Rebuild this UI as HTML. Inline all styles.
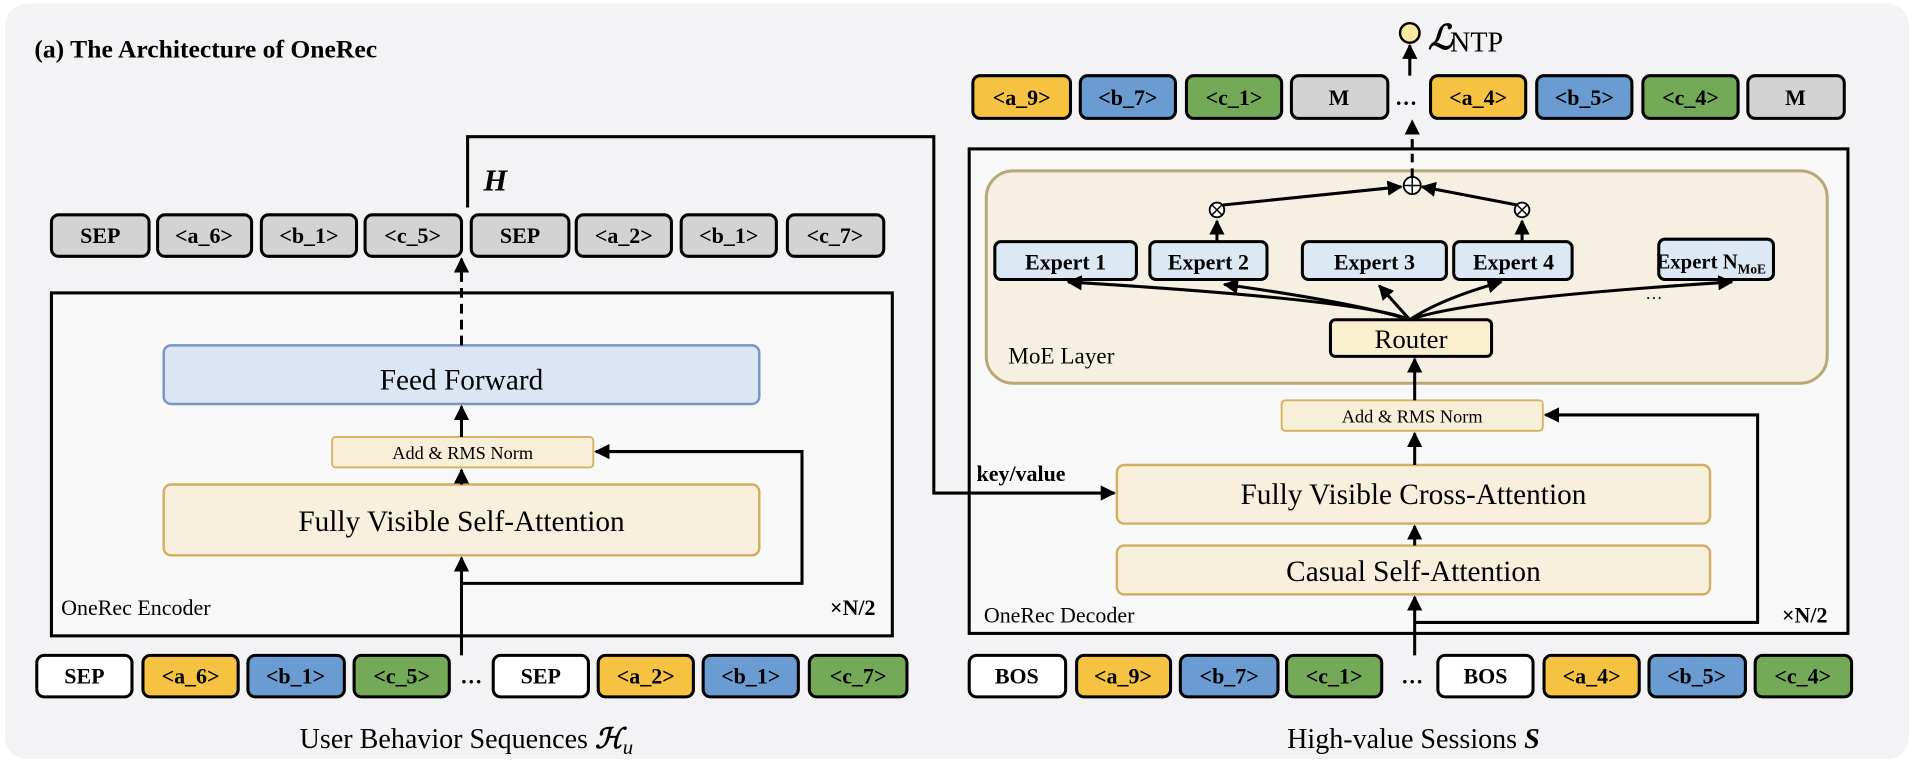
<!DOCTYPE html>
<html><head><meta charset="utf-8"><style>
html,body{margin:0;padding:0;background:#fff;}
svg{display:block;}
text{font-family:"Liberation Serif",serif;}
.tk{font-weight:bold;font-size:18px;text-anchor:middle;}
</style></head><body>
<svg width="1914" height="764" viewBox="0 0 1568 626" xmlns="http://www.w3.org/2000/svg">
<defs>
<marker id="ar" viewBox="0 0 10 10" refX="9" refY="5" markerWidth="5" markerHeight="5" orient="auto-start-reverse"><path d="M0,0 L10,5 L0,10 z" fill="#000"/></marker>
</defs>
<rect x="4" y="3" width="1560" height="619" rx="18" fill="#f3f3f6"/>
<text x="28" y="47" font-size="21" font-weight="bold">(a) The Architecture of OneRec</text>

<!-- Decoder frames (drawn first) -->
<rect x="794" y="122" width="720" height="397" fill="#f8f8f8" stroke="#000" stroke-width="2.5"/>
<rect x="808" y="140" width="689" height="174" rx="22" fill="#f6f0e2" stroke="#b8a878" stroke-width="2.5"/>

<!-- Encoder -->
<rect x="42" y="240" width="689" height="281" fill="#f8f8f8" stroke="#000" stroke-width="2.5"/>
<text x="50" y="504" font-size="18">OneRec Encoder</text>
<text x="680" y="504" font-size="18" font-weight="bold">×N/2</text>
<rect x="134" y="283" width="488" height="48" rx="6" fill="#dbe5f4" stroke="#7a95c4" stroke-width="2"/>
<text x="378" y="319" font-size="24" text-anchor="middle">Feed Forward</text>
<rect x="272" y="358" width="214" height="25" rx="3" fill="#f8efd8" stroke="#d4b060" stroke-width="1.5"/>
<text x="379" y="376" font-size="15" text-anchor="middle">Add &amp; RMS Norm</text>
<rect x="134" y="397" width="488" height="58" rx="6" fill="#f8f0dc" stroke="#d0b060" stroke-width="2"/>
<text x="378" y="435" font-size="24" text-anchor="middle">Fully Visible Self-Attention</text>
<g stroke="#000" stroke-width="2.5" fill="none">
<line x1="378" y1="537" x2="378" y2="457" marker-end="url(#ar)"/>
<polyline points="378,478 657,478 657,370 488,370" marker-end="url(#ar)"/>
<line x1="378" y1="397" x2="378" y2="385" marker-end="url(#ar)"/>
<line x1="378" y1="358" x2="378" y2="333" marker-end="url(#ar)"/>
<line x1="378" y1="283" x2="378" y2="212" stroke-dasharray="8,5" marker-end="url(#ar)"/>
<polyline points="383,170 383,112 765,112 765,404 913,404" marker-end="url(#ar)"/>
</g>
<text x="396" y="156" font-size="25" font-weight="bold" font-style="italic">H</text>
<text x="800" y="394" font-size="18" font-weight="bold">key/value</text>

<!-- top left tokens -->
<g stroke="#000" stroke-width="2.5" fill="#d3d3d3">
<rect x="42" y="176" width="80" height="34" rx="6"/><rect x="129" y="176" width="77" height="34" rx="6"/>
<rect x="214" y="176" width="78" height="34" rx="6"/><rect x="299" y="176" width="79" height="34" rx="6"/>
<rect x="386" y="176" width="80" height="34" rx="6"/><rect x="472" y="176" width="78" height="34" rx="6"/>
<rect x="558" y="176" width="78" height="34" rx="6"/><rect x="645" y="176" width="79" height="34" rx="6"/>
</g>
<g class="tk">
<text x="82" y="199">SEP</text><text x="167" y="199">&lt;a_6&gt;</text><text x="253" y="199">&lt;b_1&gt;</text><text x="338" y="199">&lt;c_5&gt;</text>
<text x="426" y="199">SEP</text><text x="511" y="199">&lt;a_2&gt;</text><text x="597" y="199">&lt;b_1&gt;</text><text x="684" y="199">&lt;c_7&gt;</text>
</g>

<!-- bottom left tokens -->
<g stroke="#000" stroke-width="2.5">
<rect x="30" y="537" width="78" height="34" rx="6" fill="#fff"/><rect x="117" y="537" width="78" height="34" rx="6" fill="#f5c242"/>
<rect x="203" y="537" width="79" height="34" rx="6" fill="#6a9bd1"/><rect x="290" y="537" width="78" height="34" rx="6" fill="#74a957"/>
<rect x="404" y="537" width="78" height="34" rx="6" fill="#fff"/><rect x="490" y="537" width="78" height="34" rx="6" fill="#f5c242"/>
<rect x="576" y="537" width="78" height="34" rx="6" fill="#6a9bd1"/><rect x="663" y="537" width="80" height="34" rx="6" fill="#74a957"/>
</g>
<g class="tk">
<text x="69" y="560">SEP</text><text x="156" y="560">&lt;a_6&gt;</text><text x="242" y="560">&lt;b_1&gt;</text><text x="329" y="560">&lt;c_5&gt;</text>
<text x="386" y="560">…</text>
<text x="443" y="560">SEP</text><text x="529" y="560">&lt;a_2&gt;</text><text x="615" y="560">&lt;b_1&gt;</text><text x="703" y="560">&lt;c_7&gt;</text>
</g>
<text x="382" y="613" font-size="23" text-anchor="middle">User Behavior Sequences <tspan font-weight="bold" font-style="italic">ℋ</tspan><tspan font-style="italic" font-size="17" dy="5">u</tspan></text>

<!-- Decoder contents -->
<text x="826" y="298" font-size="19">MoE Layer</text>
<text x="806" y="510" font-size="18">OneRec Decoder</text>
<text x="1460" y="510" font-size="18" font-weight="bold">×N/2</text>
<g stroke="#000" stroke-width="2.5" fill="#dde8f5">
<rect x="815" y="198" width="116" height="31" rx="5"/><rect x="942" y="198" width="96" height="31" rx="5"/>
<rect x="1067" y="198" width="118" height="31" rx="5"/><rect x="1191" y="198" width="97" height="31" rx="5"/>
<rect x="1359" y="196" width="94" height="33" rx="5"/>
</g>
<g font-size="18" font-weight="bold" text-anchor="middle">
<text x="873" y="221">Expert 1</text><text x="990" y="221">Expert 2</text><text x="1126" y="221">Expert 3</text><text x="1240" y="221">Expert 4</text>
<text x="1402" y="220" font-size="17">Expert N<tspan font-size="11" dy="4">MoE</tspan></text>
</g>
<rect x="1090" y="262" width="132" height="30" rx="4" fill="#faefcf" stroke="#000" stroke-width="2.5"/>
<text x="1156" y="285" font-size="22" text-anchor="middle">Router</text>
<rect x="1050" y="328" width="214" height="25" rx="3" fill="#f8efd8" stroke="#d4b060" stroke-width="1.5"/>
<text x="1157" y="346" font-size="15" text-anchor="middle">Add &amp; RMS Norm</text>
<rect x="915" y="381" width="486" height="48" rx="6" fill="#f8f0dc" stroke="#d0b060" stroke-width="2"/>
<text x="1158" y="413" font-size="24" text-anchor="middle">Fully Visible Cross-Attention</text>
<rect x="915" y="447" width="486" height="40" rx="6" fill="#f8f0dc" stroke="#d0b060" stroke-width="2"/>
<text x="1158" y="476" font-size="24" text-anchor="middle">Casual Self-Attention</text>
<g stroke="#000" stroke-width="2.5" fill="none">
<line x1="1159" y1="537" x2="1159" y2="489" marker-end="url(#ar)"/>
<polyline points="1159,510 1440,510 1440,340 1266,340" marker-end="url(#ar)"/>
<line x1="1159" y1="447" x2="1159" y2="431" marker-end="url(#ar)"/>
<line x1="1159" y1="381" x2="1159" y2="355" marker-end="url(#ar)"/>
<line x1="1159" y1="328" x2="1159" y2="294" marker-end="url(#ar)"/>
<path d="M1155,262 Q1120,246 875,231" marker-end="url(#ar)"/>
<path d="M1155,262 Q1110,248 1003,233" marker-end="url(#ar)"/>
<line x1="1155" y1="262" x2="1130" y2="234" marker-end="url(#ar)"/>
<path d="M1155,262 Q1180,245 1230,231" marker-end="url(#ar)"/>
<path d="M1155,262 Q1200,245 1419,231" marker-end="url(#ar)"/>
<line x1="997" y1="198" x2="997" y2="181" marker-end="url(#ar)"/>
<line x1="1247" y1="198" x2="1247" y2="181" marker-end="url(#ar)"/>
<line x1="1002" y1="168" x2="1148" y2="153" marker-end="url(#ar)"/>
<line x1="1243" y1="168" x2="1165" y2="153" marker-end="url(#ar)"/>
<line x1="1157" y1="145" x2="1157" y2="99" stroke-dasharray="7,5" marker-end="url(#ar)"/>
<line x1="1155" y1="62" x2="1155" y2="37" marker-end="url(#ar)"/>
</g>
<text x="1348" y="245" font-size="14">…</text>
<g fill="#fff" stroke="#000" stroke-width="1.5">
<circle cx="997" cy="172" r="6"/><circle cx="1247" cy="172" r="6"/><circle cx="1157" cy="152" r="7"/>
</g>
<g stroke="#000" stroke-width="1.2">
<line x1="993" y1="168" x2="1001" y2="176"/><line x1="1001" y1="168" x2="993" y2="176"/>
<line x1="1243" y1="168" x2="1251" y2="176"/><line x1="1251" y1="168" x2="1243" y2="176"/>
<line x1="1150" y1="152" x2="1164" y2="152"/><line x1="1157" y1="145" x2="1157" y2="159"/>
</g>
<circle cx="1155" cy="27" r="8" fill="#fce9a0" stroke="#000" stroke-width="2"/>
<text x="1170" y="40" font-size="28" font-weight="bold" font-style="italic">ℒ</text>
<text x="1188" y="42" font-size="23">NTP</text>

<!-- top right tokens -->
<g stroke="#000" stroke-width="2.5">
<rect x="797" y="62" width="80" height="35" rx="6" fill="#f5c242"/><rect x="885" y="62" width="78" height="35" rx="6" fill="#6a9bd1"/>
<rect x="972" y="62" width="78" height="35" rx="6" fill="#74a957"/><rect x="1058" y="62" width="79" height="35" rx="6" fill="#d3d3d3"/>
<rect x="1172" y="62" width="78" height="35" rx="6" fill="#f5c242"/><rect x="1259" y="62" width="78" height="35" rx="6" fill="#6a9bd1"/>
<rect x="1346" y="62" width="78" height="35" rx="6" fill="#74a957"/><rect x="1432" y="62" width="79" height="35" rx="6" fill="#d3d3d3"/>
</g>
<g class="tk">
<text x="837" y="86">&lt;a_9&gt;</text><text x="924" y="86">&lt;b_7&gt;</text><text x="1011" y="86">&lt;c_1&gt;</text><text x="1097" y="86">M</text>
<text x="1152" y="86">…</text>
<text x="1211" y="86">&lt;a_4&gt;</text><text x="1298" y="86">&lt;b_5&gt;</text><text x="1385" y="86">&lt;c_4&gt;</text><text x="1471" y="86">M</text>
</g>

<!-- bottom right tokens -->
<g stroke="#000" stroke-width="2.5">
<rect x="794" y="537" width="79" height="34" rx="6" fill="#fff"/><rect x="882" y="537" width="77" height="34" rx="6" fill="#f5c242"/>
<rect x="967" y="537" width="80" height="34" rx="6" fill="#6a9bd1"/><rect x="1054" y="537" width="78" height="34" rx="6" fill="#74a957"/>
<rect x="1178" y="537" width="78" height="34" rx="6" fill="#fff"/><rect x="1265" y="537" width="78" height="34" rx="6" fill="#f5c242"/>
<rect x="1351" y="537" width="79" height="34" rx="6" fill="#6a9bd1"/><rect x="1438" y="537" width="79" height="34" rx="6" fill="#74a957"/>
</g>
<g class="tk">
<text x="833" y="560">BOS</text><text x="920" y="560">&lt;a_9&gt;</text><text x="1007" y="560">&lt;b_7&gt;</text><text x="1093" y="560">&lt;c_1&gt;</text>
<text x="1157" y="560">…</text>
<text x="1217" y="560">BOS</text><text x="1304" y="560">&lt;a_4&gt;</text><text x="1390" y="560">&lt;b_5&gt;</text><text x="1477" y="560">&lt;c_4&gt;</text>
</g>
<text x="1158" y="613" font-size="23" text-anchor="middle">High-value Sessions <tspan font-weight="bold" font-style="italic">S</tspan></text>
</svg>
</body></html>
